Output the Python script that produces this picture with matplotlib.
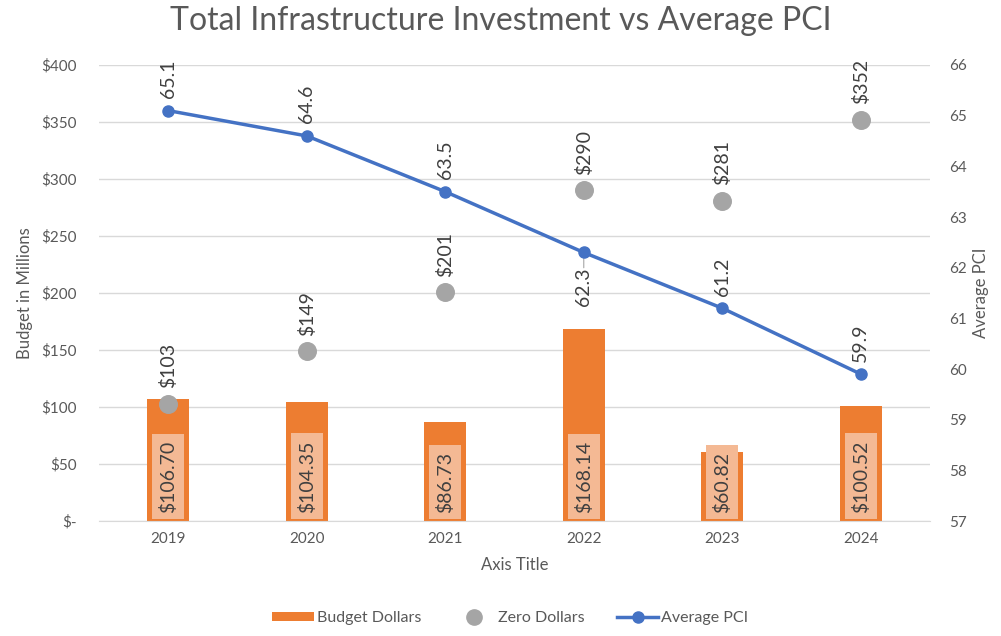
import matplotlib.pyplot as plt
from matplotlib.lines import Line2D
from matplotlib.patches import Patch
import numpy as np

plt.rcParams['font.family'] = ['Lato', 'DejaVu Sans']

# --- data ---
years = ['2019', '2020', '2021', '2022', '2023', '2024']
budget = [106.70, 104.35, 86.73, 168.14, 60.82, 100.52]
zero_dollars = [103, 149, 201, 290, 281, 352]
avg_pci = [65.1, 64.6, 63.5, 62.3, 61.2, 59.9]

# PCI label placement: 1 = above point, -1 = below point
pci_label_side = [1, 1, 1, -1, 1, 1]

ORANGE = '#ED7D31'
GRAY = '#A5A5A5'
BLUE = '#4472C4'
TXT = '#404040'
TICK = '#595959'

fig = plt.figure(figsize=(10.01, 6.36), dpi=100)
ax = fig.add_axes([0.0989, 0.1808, 0.8302, 0.717])
ax2 = ax.twinx()

x = np.arange(len(years))

ax.bar(x, budget, width=0.30, color=ORANGE, zorder=2)
for xi, v in zip(x, budget):
    ax.annotate(f'${v:.2f}', (xi, 0), xytext=(0, 6), textcoords='offset points',
                rotation=90, ha='center', va='bottom', fontsize=14, color=TXT, zorder=5,
                bbox=dict(boxstyle='square,pad=0.35', facecolor='#F4B994', edgecolor='none'))

ax.scatter(x, zero_dollars, s=160, color=GRAY, zorder=3)
for xi, v in zip(x, zero_dollars):
    ax.annotate(f'${v}', (xi, v), xytext=(0, 11), textcoords='offset points',
                rotation=90, ha='center', va='bottom', fontsize=14, color=TXT)

ax.set_ylim(0, 400)
ax.set_xlim(-0.5, len(years) - 0.5)
ax.set_yticks(np.arange(0, 401, 50))
ax.set_yticklabels(['$-'] + [f'${v}' for v in range(50, 401, 50)])
ax.set_xticks(x)
ax.set_xticklabels(years)
ax.grid(axis='y', color='#D9D9D9', linewidth=1, zorder=0)
ax.set_axisbelow(True)

ax2.plot(x, avg_pci, color=BLUE, linewidth=2.5, marker='o', markersize=8, zorder=4)
for xi, v, side in zip(x, avg_pci, pci_label_side):
    if side > 0:
        ax2.annotate(f'{v}', (xi, v), xytext=(0, 9), textcoords='offset points',
                     rotation=90, ha='center', va='bottom', fontsize=14, color=TXT)
    else:
        ax2.annotate(f'{v}', (xi, v), xytext=(0, -11), textcoords='offset points',
                     rotation=90, ha='center', va='top', fontsize=14, color=TXT)
        ax2.annotate('', (xi, v), xytext=(0, -11), textcoords='offset points',
                     arrowprops=dict(arrowstyle='-', color='#A6A6A6', lw=0.8,
                                     shrinkA=0, shrinkB=4))
ax2.set_ylim(57, 66)
ax2.set_yticks(np.arange(57, 67, 1))

for a in (ax, ax2):
    for s in a.spines.values():
        s.set_visible(False)
    a.tick_params(length=0, labelsize=11, colors=TICK)
ax.spines['bottom'].set_visible(True)
ax.spines['bottom'].set_color('#D9D9D9')
ax.tick_params(axis='x', pad=8)
ax.tick_params(axis='y', pad=16)
ax2.tick_params(axis='y', pad=14)

ax.set_xlabel('Axis Title', fontsize=12, color=TICK, labelpad=8)
ax.set_ylabel('Budget in Millions', fontsize=12, color=TICK, labelpad=6)
ax2.set_ylabel('Average PCI', fontsize=12, color=TICK, labelpad=4)

fig.suptitle('Total Infrastructure Investment vs Average PCI', fontsize=23,
             color=TICK, y=0.99)

handles = [
    Patch(facecolor=ORANGE, edgecolor='none'),
    Line2D([], [], linestyle='none', marker='o', markersize=11, color=GRAY),
    Line2D([], [], color=BLUE, linewidth=2.5, marker='o', markersize=8),
]
fig.legend(handles=handles, labels=['Budget Dollars', 'Zero Dollars', 'Average PCI'],
           loc='lower center', bbox_to_anchor=(0.51, -0.005), ncol=3, frameon=False,
           fontsize=11.5, labelcolor=TICK, handlelength=2.6, handleheight=0.5,
           handletextpad=0.2, columnspacing=2.0)

fig.savefig('out.png', dpi=100)
